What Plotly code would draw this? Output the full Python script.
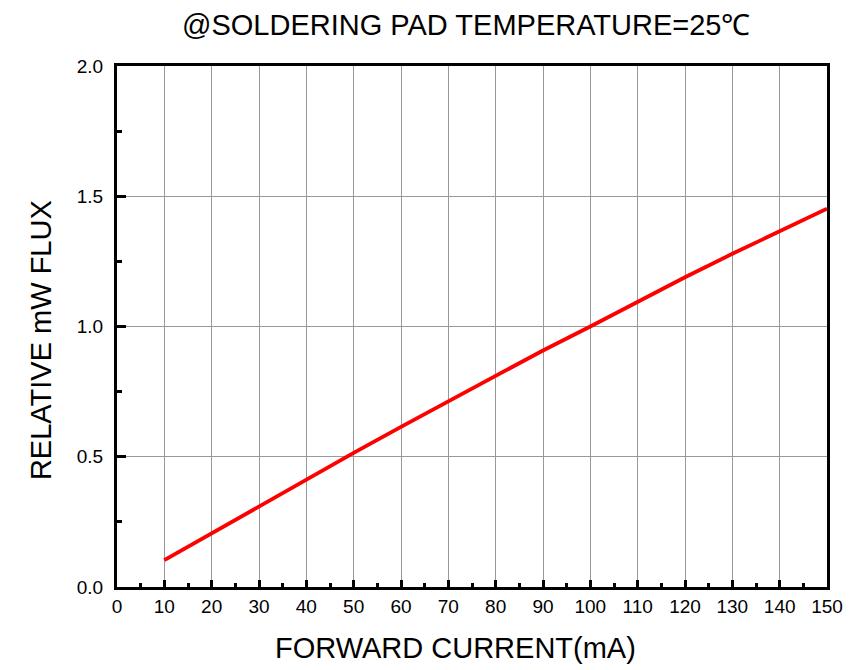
import plotly.graph_objects as go

current_ma = [10, 20, 30, 40, 50, 60, 70, 80, 90, 100, 110, 120, 130, 140, 150]
relative_flux = [0.103, 0.206, 0.311, 0.414, 0.515, 0.615, 0.714, 0.812, 0.908, 1.0, 1.095, 1.189, 1.279, 1.366, 1.452]

x_ticks = list(range(0, 151, 10))
y_ticks = [0.0, 0.5, 1.0, 1.5, 2.0]

title_text = "@SOLDERING PAD TEMPERATURE=25\u2103"
x_title = "FORWARD CURRENT(mA)"
y_title = "RELATIVE mW FLUX"

FONT = "Liberation Sans, Arial, sans-serif"

fig = go.Figure()
fig.add_trace(go.Scatter(x=current_ma, y=relative_flux, mode="lines",
                         line=dict(color="#ff0000", width=3.8), showlegend=False))

fig.update_layout(
    width=850, height=670,
    margin=dict(l=117, r=23, t=66, b=83),
    paper_bgcolor="white", plot_bgcolor="white",
    font=dict(family=FONT, color="black"),
    annotations=[
        dict(text=title_text, xref="paper", yref="paper", x=0.4923, y=1.0787,
             xanchor="center", yanchor="middle", showarrow=False,
             font=dict(size=29, family=FONT, color="black")),
        dict(text=x_title, xref="paper", yref="paper", x=0.4766, y=-0.1171,
             xanchor="center", yanchor="middle", showarrow=False,
             font=dict(size=29, family=FONT, color="black")),
        dict(text=y_title, xref="paper", yref="paper", x=-0.107, y=0.474,
             xanchor="center", yanchor="middle", showarrow=False, textangle=-90,
             font=dict(size=29, family=FONT, color="black")),
    ],
)
fig.update_xaxes(
    range=[0, 150], tickvals=x_ticks, ticktext=[str(v) for v in x_ticks],
    showgrid=True, gridcolor="#999999", gridwidth=1,
    showline=True, linecolor="black", linewidth=3, mirror=True,
    ticks="inside", ticklen=7, tickwidth=3, tickcolor="black",
    minor=dict(tickvals=list(range(5, 150, 10)), ticks="inside", ticklen=4, tickwidth=3, tickcolor="black", showgrid=False),
    tickfont=dict(size=19, family=FONT, color="black"), zeroline=False,
    automargin=False,
)
fig.update_yaxes(
    range=[0, 2.0], tickvals=y_ticks, ticktext=["0.0", "0.5", "1.0", "1.5", "2.0"],
    showgrid=True, gridcolor="#999999", gridwidth=1,
    showline=True, linecolor="black", linewidth=3, mirror=True,
    ticks="inside", ticklen=9, tickwidth=3, tickcolor="black",
    minor=dict(tickvals=[0.25, 0.75, 1.25, 1.75], ticks="inside", ticklen=5, tickwidth=3, tickcolor="black", showgrid=False),
    tickfont=dict(size=19, family=FONT, color="black"), zeroline=False,
    ticklabelstandoff=7, automargin=False,
)

fig.write_html("out.html", config={"displayModeBar": False},
               post_script="document.body.style.margin='0';document.body.style.overflow='hidden';")
